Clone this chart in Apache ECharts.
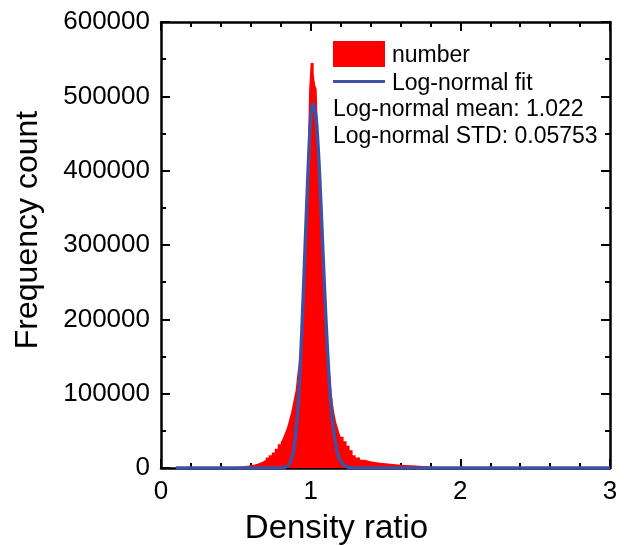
<!DOCTYPE html>
<html><head><meta charset="utf-8">
<script src="https://cdn.jsdelivr.net/npm/echarts@6/dist/echarts.min.js"></script>
<style>html,body{margin:0;padding:0;background:#fff}#c{width:624px;height:546px}</style>
</head><body><div id="c"></div>
<script>
// Histogram bins: left edge of each bin and its count (last edge closes the histogram)
const binStart = [0.10,0.15,0.20,0.25,0.30,0.35,0.40,0.45,0.50,0.54,0.58,0.62,0.65,0.68,0.70,0.72,0.74,0.76,0.78,
  0.80,0.81,0.82,0.83,0.84,0.85,0.86,0.87,0.88,0.89,0.90,0.91,0.92,0.93,0.94,0.95,0.96,0.97,0.98,0.99,
  1.00,1.01,1.02,1.03,1.04,1.05,1.06,1.07,1.08,1.09,1.10,1.11,1.12,1.13,1.14,1.15,1.16,1.17,1.18,1.19,
  1.20,1.22,1.24,1.26,1.28,1.30,1.33,1.36,1.40,1.45,1.50,1.55,1.60,1.70,1.80,1.90,2.00,2.20,2.50,3.00];
const binCount = [0,50,100,200,300,500,700,1200,2000,3000,4500,6000,8500,11000,14000,17000,21000,26000,32000,
  35000,38000,43000,48000,53000,60000,68000,75000,85000,95000,105000,125000,140000,160000,190000,230000,290000,350000,420000,510000,
  545000,545000,530000,515000,510000,440000,380000,320000,275000,230000,190000,160000,140000,125000,100000,85000,72000,62000,55000,48000,
  42000,36000,30000,24000,17000,14000,11000,9000,7500,6500,5500,4500,3500,2000,1000,500,300,150,80,0];
// Log-normal fit curve
const fitX = [0.10,0.80,0.84,0.86,0.88,0.90,0.92,0.94,0.96,0.98,1.00,1.015,1.03,1.04,1.06,1.08,1.10,1.12,1.14,1.16,1.18,1.20,1.25,1.30,1.40,3.00];
const fitY = [0,100,2000,6500,18000,45000,98000,178000,281000,385000,470000,490000,480000,463000,392000,299000,207000,130000,75000,40000,19700,9000,1000,100,0,0];
const xTicks = [0,1,2,3];
const yTicks = [0,100000,200000,300000,400000,500000,600000];
const legendNames = ['number','Log-normal fit'];
const statLines = ['Log-normal mean: 1.022','Log-normal STD: 0.05753'];

const FONT = 'Liberation Sans, Arial, sans-serif';
const histData = binStart.map((x,i)=>[x,binCount[i]]);
const fitData = fitX.map((x,i)=>[x,fitY[i]]);

const chart = echarts.init(document.getElementById('c'), null, {renderer:'canvas'});
const tickStyle = {show:true, inside:true, length:9, lineStyle:{color:'#000', width:2}};
const minorStyle = {show:true, length:5, lineStyle:{color:'#000', width:2}};
const lineAxis = {show:true, onZero:false, lineStyle:{color:'#000', width:2.5}};
chart.setOption({
  animation:false,
  grid:{left:161, right:14, top:22, bottom:78, containLabel:false, outerBoundsMode:'none'},
  xAxis:[{
    type:'value', min:xTicks[0], max:xTicks[xTicks.length-1], interval:1,
    name:'Density ratio', nameLocation:'middle', nameGap:44,
    nameTextStyle:{fontFamily:FONT, fontSize:33, color:'#000', padding:[0,98,0,0]},
    axisLine:lineAxis, axisTick:tickStyle, minorTick:Object.assign({splitNumber:5},minorStyle),
    splitLine:{show:false},
    axisLabel:{fontFamily:FONT, fontSize:26, color:'#000', margin:11}
  },{
    type:'value', position:'top', min:xTicks[0], max:xTicks[xTicks.length-1], interval:1,
    axisLine:lineAxis, axisTick:tickStyle, minorTick:Object.assign({splitNumber:5},minorStyle),
    splitLine:{show:false}, axisLabel:{show:false}
  }],
  yAxis:[{
    type:'value', min:yTicks[0], max:yTicks[yTicks.length-1], interval:100000,
    name:'Frequency count', nameLocation:'middle', nameGap:117,
    nameTextStyle:{fontFamily:FONT, fontSize:32, color:'#000', padding:[0,0,0,30]},
    axisLine:lineAxis, axisTick:tickStyle, minorTick:Object.assign({splitNumber:2},minorStyle),
    splitLine:{show:false},
    axisLabel:{fontFamily:FONT, fontSize:26, color:'#000', margin:11, formatter:v=>String(v)}
  },{
    type:'value', position:'right', min:yTicks[0], max:yTicks[yTicks.length-1], interval:100000,
    axisLine:lineAxis, axisTick:tickStyle, minorTick:Object.assign({splitNumber:2},minorStyle),
    splitLine:{show:false}, axisLabel:{show:false}
  }],
  series:[{
    name:legendNames[0], type:'line', step:'end', data:histData, symbol:'none',
    lineStyle:{width:0, color:'#ff0000'}, areaStyle:{color:'#ff0000', opacity:1}, z:2
  },{
    name:legendNames[1], type:'line', data:fitData, symbol:'none', smooth:0.3,
    lineStyle:{width:3.5, color:'#3f51a5'}, z:3
  }],
  graphic:[
    {type:'rect', left:333, top:41, shape:{width:52, height:26}, style:{fill:'#ff0000'}},
    {type:'text', left:392, top:44, style:{text:legendNames[0], font:'23px '+FONT, fill:'#000'}},
    {type:'rect', left:333, top:80, shape:{width:52, height:3}, style:{fill:'#3f51a5'}},
    {type:'text', left:392, top:72, style:{text:legendNames[1], font:'23px '+FONT, fill:'#000'}},
    {type:'text', left:333, top:98, style:{text:statLines[0], font:'23px '+FONT, fill:'#000'}},
    {type:'text', left:333, top:125, style:{text:statLines[1], font:'23px '+FONT, fill:'#000'}}
  ]
});
</script></body></html>
